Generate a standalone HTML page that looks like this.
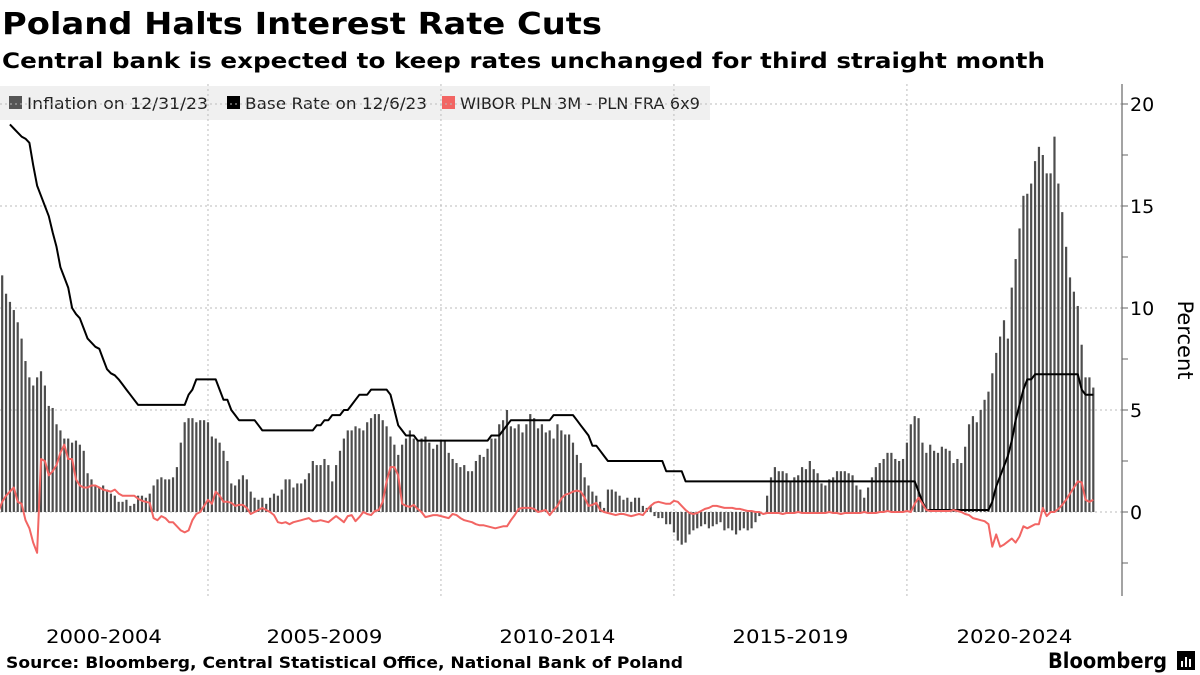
<!DOCTYPE html>
<html><head><meta charset="utf-8">
<style>
body{margin:0;background:#fff;width:1200px;height:675px;overflow:hidden;font-family:"DejaVu Sans","Liberation Sans",sans-serif;}
svg{position:absolute;left:0;top:0}
</style></head>
<body>
<svg width="1200" height="675" id="c" font-family="DejaVu Sans, Liberation Sans, sans-serif">
<text x="2" y="34" font-size="30" font-weight="bold" fill="#000" textLength="600" lengthAdjust="spacingAndGlyphs">Poland Halts Interest Rate Cuts</text>
<text x="2" y="68" font-size="21.5" font-weight="bold" fill="#000" textLength="1043" lengthAdjust="spacingAndGlyphs">Central bank is expected to keep rates unchanged for third straight month</text>
<g>
<rect x="0" y="86" width="710" height="34" fill="#f0f0f0"/>
<g><rect x="9" y="96" width="13" height="13" fill="#555"/><text x="27" y="109" font-size="16" fill="#222" textLength="181" lengthAdjust="spacingAndGlyphs">Inflation on 12/31/23</text></g>
<g><rect x="227" y="96" width="13" height="13" fill="#000"/><text x="245" y="109" font-size="16" fill="#222" textLength="182" lengthAdjust="spacingAndGlyphs">Base Rate on 12/6/23</text></g>
<g><rect x="442" y="96" width="13" height="13" fill="#f26563"/><text x="460" y="109" font-size="16" fill="#222" textLength="240" lengthAdjust="spacingAndGlyphs">WIBOR PLN 3M - PLN FRA 6x9</text></g>
</g>
<g id="grid"></g><g id="bars"></g><g id="lines"></g><g id="axis"></g>
<text transform="translate(1178,340) rotate(90)" font-size="21" text-anchor="middle" fill="#000">Percent</text>
<text x="6" y="668" font-size="16" font-weight="bold" fill="#000" textLength="677" lengthAdjust="spacingAndGlyphs">Source: Bloomberg, Central Statistical Office, National Bank of Poland</text>
<text x="1048" y="668" font-size="21" font-weight="bold" fill="#000" textLength="119" lengthAdjust="spacingAndGlyphs">Bloomberg</text>
<g>
<rect x="1177" y="651" width="18" height="19" fill="#000"/>
<rect x="1181" y="661" width="2" height="6" fill="#fff"/><rect x="1185" y="657" width="2" height="10" fill="#fff"/><rect x="1189" y="659" width="2" height="8" fill="#fff"/>
</g>
</svg>
<script>
// Inflation monthly (y/y %), Jun 2000 .. Dec 2023
const inflStart = 5; // month index from Jan 2000
const inflation = [
10.2,11.6,10.7,10.3,9.9,9.3,8.5,
7.4,6.6,6.2,6.6,6.9,6.2,5.2,5.1,4.3,4.0,3.6,3.6,
3.4,3.5,3.3,3.0,1.9,1.6,1.3,1.2,1.3,1.1,0.9,0.8,
0.5,0.5,0.6,0.3,0.4,0.8,0.8,0.7,0.9,1.3,1.6,1.7,
1.6,1.6,1.7,2.2,3.4,4.4,4.6,4.6,4.4,4.5,4.5,4.4,
3.7,3.6,3.4,3.0,2.5,1.4,1.3,1.6,1.8,1.6,1.0,0.7,
0.6,0.7,0.4,0.7,0.9,0.8,1.1,1.6,1.6,1.2,1.4,1.4,
1.6,1.9,2.5,2.3,2.3,2.6,2.3,1.5,2.3,3.0,3.6,4.0,
4.0,4.2,4.1,4.0,4.4,4.6,4.8,4.8,4.5,4.2,3.7,3.3,
2.8,3.3,3.6,4.0,3.6,3.5,3.6,3.7,3.4,3.1,3.3,3.5,
3.5,2.9,2.6,2.4,2.2,2.3,2.0,2.0,2.5,2.8,2.7,3.1,
3.6,3.6,4.3,4.5,5.0,4.2,4.1,4.3,3.9,4.3,4.8,4.6,
4.1,4.3,3.9,4.0,3.6,4.3,4.0,3.8,3.8,3.4,2.8,2.4,
1.7,1.3,1.0,0.8,0.5,0.2,1.1,1.1,1.0,0.8,0.6,0.7,
0.5,0.7,0.7,0.3,0.2,0.3,-0.2,-0.3,-0.3,-0.6,-0.6,-1.0,
-1.4,-1.6,-1.5,-1.1,-0.9,-0.8,-0.7,-0.6,-0.8,-0.7,-0.6,-0.5,
-0.9,-0.8,-0.9,-1.1,-0.9,-0.8,-0.9,-0.8,-0.5,-0.2,0.0,0.8,
1.7,2.2,2.0,2.0,1.9,1.5,1.7,1.8,2.2,2.1,2.5,2.1,
1.9,1.4,1.3,1.6,1.7,2.0,2.0,2.0,1.9,1.8,1.3,1.1,
0.7,1.2,1.7,2.2,2.4,2.6,2.9,2.9,2.6,2.5,2.6,3.4,
4.3,4.7,4.6,3.4,2.9,3.3,3.0,2.9,3.2,3.1,3.0,2.4,
2.6,2.4,3.2,4.3,4.7,4.4,5.0,5.5,5.9,6.8,7.8,8.6,
9.4,8.5,11.0,12.4,13.9,15.5,15.6,16.1,17.2,17.9,17.5,16.6,
16.6,18.4,16.1,14.7,13.0,11.5,10.8,10.1,8.2,6.6,6.6,6.1];
// Base rate monthly, Sep 2000 .. Dec 2023
const baseStart = 8;
const baseRate = [
19,18.8,18.6,18.4,
18.3,18.1,17,16,15.5,15,14.5,13.7,13,12,11.5,11,
10,9.7,9.5,9,8.5,8.3,8.1,8,7.5,7,6.8,6.7,
6.5,6.25,6,5.75,5.5,5.25,5.25,5.25,5.25,5.25,5.25,5.25,
5.25,5.25,5.25,5.25,5.25,5.25,5.75,6,6.5,6.5,6.5,6.5,
6.5,6.5,6,5.5,5.5,5,4.75,4.5,4.5,4.5,4.5,4.5,
4.25,4,4,4,4,4,4,4,4,4,4,4,
4,4,4,4.25,4.25,4.5,4.5,4.75,4.75,4.75,5,5,
5.25,5.5,5.75,5.75,5.75,6,6,6,6,6,5.75,5,
4.25,4,3.75,3.75,3.75,3.5,3.5,3.5,3.5,3.5,3.5,3.5,
3.5,3.5,3.5,3.5,3.5,3.5,3.5,3.5,3.5,3.5,3.5,3.5,
3.75,3.75,3.75,4,4.25,4.5,4.5,4.5,4.5,4.5,4.5,4.5,
4.5,4.5,4.5,4.5,4.75,4.75,4.75,4.75,4.75,4.75,4.5,4.25,
4,3.75,3.25,3.25,3,2.75,2.5,2.5,2.5,2.5,2.5,2.5,
2.5,2.5,2.5,2.5,2.5,2.5,2.5,2.5,2.5,2,2,2,
2,2,1.5,1.5,1.5,1.5,1.5,1.5,1.5,1.5,1.5,1.5,
1.5,1.5,1.5,1.5,1.5,1.5,1.5,1.5,1.5,1.5,1.5,1.5,
1.5,1.5,1.5,1.5,1.5,1.5,1.5,1.5,1.5,1.5,1.5,1.5,
1.5,1.5,1.5,1.5,1.5,1.5,1.5,1.5,1.5,1.5,1.5,1.5,
1.5,1.5,1.5,1.5,1.5,1.5,1.5,1.5,1.5,1.5,1.5,1.5,
1.5,1.5,1.0,0.5,0.1,0.1,0.1,0.1,0.1,0.1,0.1,0.1,
0.1,0.1,0.1,0.1,0.1,0.1,0.1,0.1,0.1,0.5,1.25,1.75,
2.25,2.75,3.5,4.5,5.25,6,6.5,6.5,6.75,6.75,6.75,6.75,
6.75,6.75,6.75,6.75,6.75,6.75,6.75,6.75,6,5.75,5.75,5.75];
// WIBOR 3M - FRA 6x9 spread, monthly, Jun 2000 .. Dec 2023
const spreadStart = 5;
const spread = [
0,0.5,0.8,1.0,1.2,0.5,0.4,
-0.4,-0.8,-1.5,-2.0,2.6,2.5,1.8,2.0,2.3,2.9,3.3,2.6,
2.6,1.6,1.3,1.2,1.2,1.3,1.3,1.2,1.1,1.05,1.0,1.1,
0.9,0.8,0.8,0.8,0.8,0.65,0.55,0.5,0.45,-0.3,-0.4,-0.2,
-0.3,-0.5,-0.5,-0.7,-0.9,-1.0,-0.9,-0.4,-0.1,0,0.3,0.6,
0.4,1.0,0.8,0.5,0.5,0.45,0.3,0.35,0.35,0.2,-0.1,0.0,
0.1,0.2,0.1,0,-0.15,-0.5,-0.55,-0.5,-0.6,-0.5,-0.45,-0.4,
-0.35,-0.3,-0.45,-0.45,-0.4,-0.45,-0.5,-0.35,-0.2,-0.35,-0.5,-0.2,
-0.15,-0.45,-0.25,0,-0.1,-0.15,0.05,0.1,0.5,1.5,2.2,2.2,
1.8,0.4,0.3,0.25,0.35,0.15,0,-0.25,-0.2,-0.15,-0.15,-0.2,
-0.25,-0.3,-0.1,-0.15,-0.3,-0.4,-0.45,-0.5,-0.6,-0.65,-0.65,-0.7,
-0.75,-0.8,-0.75,-0.7,-0.7,-0.4,-0.15,0.15,0.2,0.2,0.2,0.15,
0,0.05,0.1,-0.15,0.1,0.3,0.65,0.85,0.9,1.0,1.05,1.0,
0.7,0.3,0.35,0.45,0.1,0.0,-0.05,-0.1,-0.15,-0.1,-0.1,-0.15,
-0.2,-0.15,-0.1,-0.15,0.1,0.3,0.45,0.5,0.45,0.4,0.4,0.55,
0.5,0.3,0.1,-0.05,-0.1,-0.05,0.05,0.15,0.2,0.3,0.3,0.25,
0.2,0.2,0.2,0.15,0.15,0.1,0.05,0.05,0.0,0,-0.1,-0.05,
-0.05,-0.05,-0.05,-0.1,-0.05,-0.05,-0.05,0,-0.05,-0.05,-0.05,-0.05,
-0.05,-0.05,-0.05,0,-0.05,-0.05,-0.1,-0.05,-0.05,-0.05,-0.05,-0.05,
0,-0.05,-0.05,-0.05,0,0,0.05,0,0,0,0.0,0.05,
0.0,0.4,0.7,0.4,0.1,0.05,0.05,0.05,0.05,0.05,0.05,0.1,
0.05,0.0,-0.1,-0.15,-0.3,-0.35,-0.4,-0.45,-0.6,-1.7,-1.1,-1.7,
-1.6,-1.45,-1.3,-1.5,-1.2,-0.7,-0.8,-0.7,-0.6,-0.6,0.2,-0.2,
0,0,0.15,0.35,0.6,0.9,1.2,1.5,1.45,0.6,0.5,0.6];
const periodLabels = ["2000-2004","2005-2009","2010-2014","2015-2019","2020-2024"];
const yTicks = [0,5,10,15,20];

const NS="http://www.w3.org/2000/svg";
const PLOT_R=1122, Y0=512, PXU=20.4;
function x(mIdx){ return -25 + (mIdx+1)*3.883; }
function xDate(monthsFromJan2000){ return -25 + monthsFromJan2000*3.883; }
function y(v){ return Y0 - v*PXU; }
function mk(tag,attrs,parent){const e=document.createElementNS(NS,tag);for(const k in attrs)e.setAttribute(k,attrs[k]);parent.appendChild(e);return e;}
const grid=document.getElementById('grid'),bars=document.getElementById('bars'),lines=document.getElementById('lines'),axis=document.getElementById('axis');

yTicks.forEach(t=>{
  const l=mk('line',{x1:0,x2:PLOT_R,y1:y(t),y2:y(t),stroke:'#bbb','stroke-width':1,'stroke-dasharray':'2,3'},grid);
  
  
  const tx=mk('text',{x:1130,y:y(t)+7,'font-size':19,fill:'#000'},axis);
  tx.textContent=t;
  
  
});
for(let v=-2.5; v<=20; v+=2.5){
  const tk=mk('line',{x1:PLOT_R,x2:PLOT_R+6,y1:y(v),y2:y(v),stroke:'#666','stroke-width':1},axis);
  
  
}
const ax=mk('line',{x1:PLOT_R,x2:PLOT_R,y1:84,y2:596,stroke:'#666','stroke-width':1.2},axis);



periodLabels.forEach((lab,i)=>{
  const a=xDate(i*60), b=xDate((i+1)*60);
  if(i>0){
    const g=mk('line',{x1:a,x2:a,y1:84,y2:596,stroke:'#bbb','stroke-width':1,'stroke-dasharray':'2,3'},grid);
    
    
  }
  const cx=(Math.max(0,a)+Math.min(PLOT_R,b))/2;
  const t=mk('text',{x:cx,y:643,'font-size':19,'text-anchor':'middle',fill:'#000',textLength:116,lengthAdjust:'spacingAndGlyphs'},axis);
  t.textContent=lab;
  
  
});

inflation.forEach((v,i)=>{
  const xc=x(inflStart+i);
  const r=mk('rect',{x:xc-1.1,y:Math.min(y(v),Y0),width:2.2,height:Math.abs(y(v)-Y0),fill:'#4d4d4d'},bars);
  
  
});

function path(arr,start){return arr.map((v,i)=>(i?'L':'M')+x(start+i).toFixed(1)+','+y(v).toFixed(1)).join('');}
const bp=mk('path',{d:path(baseRate,baseStart),fill:'none',stroke:'#000','stroke-width':2,'stroke-linejoin':'round'},lines);


const sp=mk('path',{d:path(spread,spreadStart),fill:'none',stroke:'#f26563','stroke-width':2,'stroke-linejoin':'round'},lines);


</script>
</body></html>
